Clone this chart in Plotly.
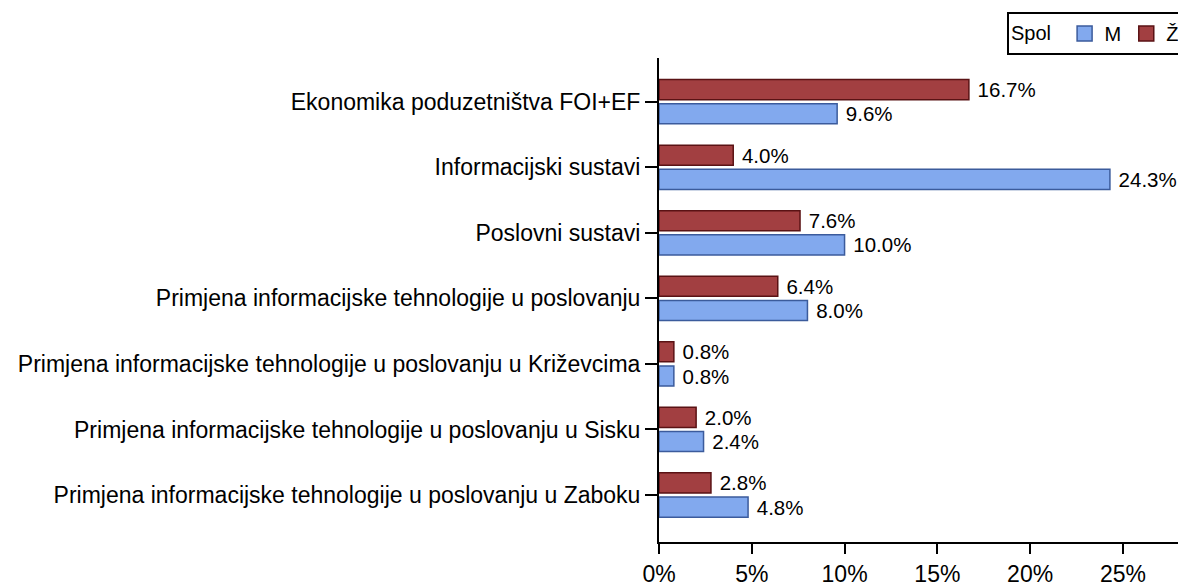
import plotly.graph_objects as go

categories = [
    "Ekonomika poduzetništva FOI+EF",
    "Informacijski sustavi",
    "Poslovni sustavi",
    "Primjena informacijske tehnologije u poslovanju",
    "Primjena informacijske tehnologije u poslovanju u Križevcima",
    "Primjena informacijske tehnologije u poslovanju u Sisku",
    "Primjena informacijske tehnologije u poslovanju u Zaboku",
]
values_M = [9.6, 24.3, 10.0, 8.0, 0.8, 2.4, 4.8]
values_Z = [16.7, 4.0, 7.6, 6.4, 0.8, 2.0, 2.8]
tick_vals = [0, 5, 10, 15, 20, 25]
tick_text = ["0%", "5%", "10%", "15%", "20%", "25%"]

FONT = "Liberation Sans, Arial, sans-serif"
RED, RED_LINE = "#a23f41", "#5a1214"
BLUE, BLUE_LINE = "#82a9ee", "#3b5b9c"

fig = go.Figure()
fig.add_trace(go.Bar(
    y=categories, x=values_Z, orientation="h", name="Ž",
    marker=dict(color=RED, line=dict(color=RED_LINE, width=1.5)),
    texttemplate="\u00a0%{x:.1f}%", textposition="outside",
    constraintext="none",
    textfont=dict(size=20.5, color="black", family=FONT),
    cliponaxis=False, showlegend=False,
))
fig.add_trace(go.Bar(
    y=categories, x=values_M, orientation="h", name="M",
    marker=dict(color=BLUE, line=dict(color=BLUE_LINE, width=1.5)),
    texttemplate="\u00a0%{x:.1f}%", textposition="outside",
    constraintext="none",
    textfont=dict(size=20.5, color="black", family=FONT),
    cliponaxis=False, showlegend=False,
))
# legend entries with larger square swatches
for name, col, lcol in [("M", BLUE, BLUE_LINE), ("Ž", RED, RED_LINE)]:
    fig.add_trace(go.Scatter(
        x=[None], y=[None], mode="markers", name=name,
        marker=dict(symbol="square", size=15, color=col,
                    line=dict(color=lcol, width=1.5)),
        showlegend=True,
    ))

fig.update_layout(
    width=1178, height=578,
    margin=dict(l=651, r=0, t=50, b=44),
    barmode="group", bargap=0.262, bargroupgap=0.17,
    plot_bgcolor="white", paper_bgcolor="white",
    font=dict(family=FONT, size=20, color="black"),
    showlegend=True,
    legend=dict(
        orientation="h", x=1, xanchor="right", y=1 - 4 / 578, yanchor="top",
        yref="container", xref="paper",
        title=dict(text="Spol ", font=dict(size=20)),
        font=dict(size=20), bordercolor="black", borderwidth=2,
        bgcolor="white", itemwidth=30,
    ),
    xaxis=dict(
        range=[0, 28.4], tickvals=tick_vals, ticktext=tick_text,
        showgrid=False, zeroline=False, showline=True, linecolor="black",
        linewidth=2, ticks="outside", ticklen=10, tickwidth=2,
        tickcolor="black", tickfont=dict(size=23),
    ),
    yaxis=dict(
        categoryorder="array", categoryarray=categories,
        range=[6.717, -0.667], showgrid=False, zeroline=False,
        showline=True, linecolor="black", linewidth=2, ticks="outside",
        ticklen=12, tickwidth=2, tickcolor="black", tickfont=dict(size=23),
    ),
)

fig.write_html("out.html")
